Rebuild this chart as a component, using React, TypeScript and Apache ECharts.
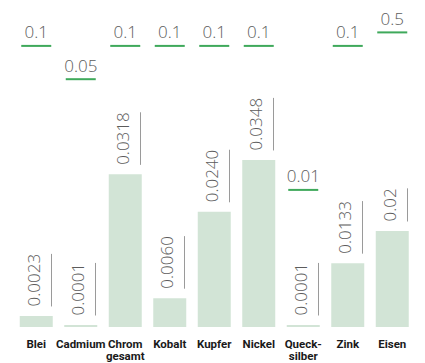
import React, { useEffect, useRef } from "react";
import * as echarts from "echarts";

const categories = ["Blei", "Cadmium", "Chrom\ngesamt", "Kobalt", "Kupfer", "Nickel", "Queck-\nsilber", "Zink", "Eisen"];
const measured = [0.0023, 0.0001, 0.0318, 0.006, 0.024, 0.0348, 0.0001, 0.0133, 0.02];
const measuredLabels = ["0.0023", "0.0001", "0.0318", "0.0060", "0.0240", "0.0348", "0.0001", "0.0133", "0.02"];
const limits = [0.1, 0.05, 0.1, 0.1, 0.1, 0.1, 0.01, 0.1, 0.5];
const limitLabels = ["0.1", "0.05", "0.1", "0.1", "0.1", "0.1", "0.01", "0.1", "0.5"];
// where each limit marker is drawn, in percent of the plot height (the original places them freely)
const limitLevel = [93.7, 82.6, 93.7, 93.7, 93.7, 93.7, 45.7, 93.7, 98.2];

const LABEL_FONT_FAMILY = "'Open Sans', 'Noto Sans', sans-serif";
const LABEL_FONT_SIZE = 17;
const LABEL_FONT_WEIGHT = 300;
const TEXT_GRAY = "#5c5c5c";
const BAR_WIDTH = 33;

let measureCtx: CanvasRenderingContext2D | null = null;
function textWidth(t: string): number {
  if (!measureCtx) {
    const c = document.createElement("canvas");
    measureCtx = c.getContext("2d");
  }
  if (!measureCtx) return t.length * 9;
  measureCtx.font = `${LABEL_FONT_WEIGHT} ${LABEL_FONT_SIZE}px ${LABEL_FONT_FAMILY}`;
  return measureCtx.measureText(t).width;
}

export default function App() {
  const ref = useRef<HTMLDivElement>(null);
  useEffect(() => {
    if (!ref.current) return;
    const chart = echarts.init(ref.current, undefined, { renderer: "svg" });
    const option: any = {
      animation: false,
      grid: { left: 14, right: 10.5, top: 27, bottom: 36, containLabel: false },
      xAxis: {
        type: "category",
        data: categories,
        axisLine: { show: false },
        axisTick: { show: false },
        axisLabel: {
          interval: 0,
          margin: 11,
          fontFamily: "Roboto, 'Liberation Sans', sans-serif",
          fontWeight: "bold",
          fontSize: 11.5,
          lineHeight: 12,
          color: "#1a1a1a",
        },
      },
      yAxis: [
        { type: "value", min: 0, max: 0.0625, show: false, splitLine: { show: false } },
        { type: "value", min: 0, max: 100, show: false, splitLine: { show: false } },
      ],
      series: [
        {
          type: "bar",
          data: measured,
          barWidth: BAR_WIDTH,
          barMinHeight: 2,
          itemStyle: { color: "#d2e4d6" },
          silent: true,
        },
        {
          type: "custom",
          yAxisIndex: 0,
          clip: false,
          data: measured.map((v, i) => [i, v]),
          renderItem: (params: any, api: any) => {
            const i = api.value(0);
            const v = api.value(1);
            const top = api.coord([i, v]);
            const base = api.coord([i, 0]);
            const yTop = Math.min(top[1], base[1] - 2);
            const text = measuredLabels[i];
            const len = textWidth(text);
            const yStart = yTop - 9.5;
            const lx = Math.round(top[0] + BAR_WIDTH / 2 - 1) - 0.5;
            return {
              type: "group",
              children: [
                {
                  type: "text",
                  x: top[0] - 3,
                  y: yStart,
                  rotation: Math.PI / 2,
                  style: {
                    text,
                    fill: TEXT_GRAY,
                    fontSize: LABEL_FONT_SIZE,
                    fontFamily: LABEL_FONT_FAMILY,
                    fontWeight: LABEL_FONT_WEIGHT,
                    align: "left",
                    verticalAlign: "middle",
                  },
                },
                {
                  type: "line",
                  shape: { x1: lx, y1: yStart, x2: lx, y2: yStart - len },
                  style: { stroke: "#9a9a9a", lineWidth: 1 },
                },
              ],
            };
          },
        },
        {
          type: "custom",
          yAxisIndex: 1,
          clip: false,
          data: limits.map((v, i) => [i, limitLevel[i], v]),
          renderItem: (params: any, api: any) => {
            const i = api.value(0);
            const p = api.coord([i, api.value(1)]);
            const w = BAR_WIDTH - 3;
            return {
              type: "group",
              children: [
                {
                  type: "rect",
                  shape: { x: p[0] - w / 2, y: p[1] - 1, width: w, height: 2 },
                  style: { fill: "#3fa95b" },
                },
                {
                  type: "text",
                  x: p[0],
                  y: p[1] - 14,
                  style: {
                    text: limitLabels[i],
                    fill: TEXT_GRAY,
                    fontSize: LABEL_FONT_SIZE,
                    fontFamily: LABEL_FONT_FAMILY,
                    fontWeight: LABEL_FONT_WEIGHT,
                    align: "center",
                    verticalAlign: "middle",
                  },
                },
              ],
            };
          },
        },
      ],
    };
    chart.setOption(option);
    return () => chart.dispose();
  }, []);
  return (
    <div
      ref={ref}
      style={{ position: "fixed", left: 0, top: 0, width: 425, height: 363, background: "#fff" }}
    />
  );
}
